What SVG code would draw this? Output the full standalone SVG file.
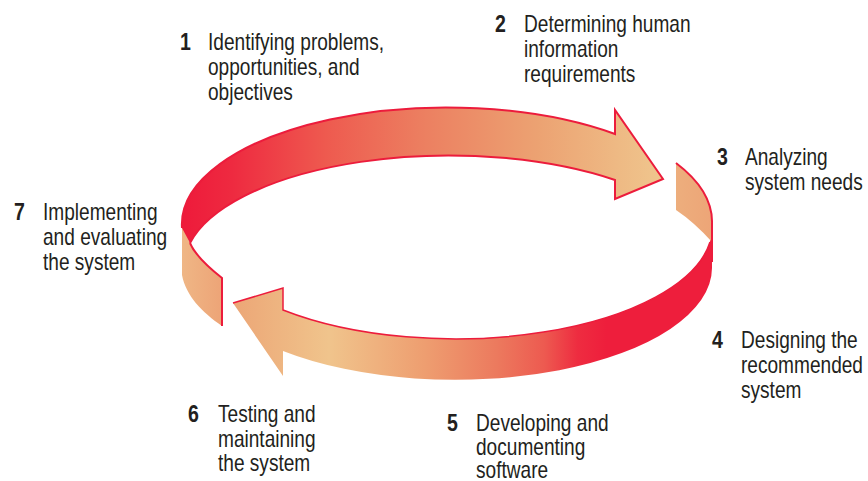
<svg xmlns="http://www.w3.org/2000/svg" width="868" height="481" viewBox="0 0 868 481">
  <defs>
    <linearGradient id="gTop" gradientUnits="userSpaceOnUse" x1="185" y1="0" x2="655" y2="0">
      <stop offset="0" stop-color="#EE1B3B"/>
      <stop offset="0.1" stop-color="#EE2A40"/>
      <stop offset="0.3" stop-color="#EE5A4F"/>
      <stop offset="0.5" stop-color="#EC7E60"/>
      <stop offset="0.75" stop-color="#ECA272"/>
      <stop offset="1" stop-color="#EFC48C"/>
    </linearGradient>
    <linearGradient id="gBot" gradientUnits="userSpaceOnUse" x1="233" y1="0" x2="712" y2="0">
      <stop offset="0" stop-color="#ECA676"/>
      <stop offset="0.2" stop-color="#F0C48C"/>
      <stop offset="0.4" stop-color="#EE9E70"/>
      <stop offset="0.55" stop-color="#EC7A5E"/>
      <stop offset="0.65" stop-color="#ED5A50"/>
      <stop offset="0.72" stop-color="#EE2C40"/>
      <stop offset="0.78" stop-color="#EE1E3C"/>
      <stop offset="1" stop-color="#EE1E3C"/>
    </linearGradient>
    <linearGradient id="gWallL" gradientUnits="userSpaceOnUse" x1="182" y1="0" x2="222" y2="0">
      <stop offset="0" stop-color="#EFB685"/>
      <stop offset="1" stop-color="#EDA477"/>
    </linearGradient>
    <linearGradient id="gWallR" gradientUnits="userSpaceOnUse" x1="676" y1="0" x2="712" y2="0">
      <stop offset="0" stop-color="#EDAE7D"/>
      <stop offset="1" stop-color="#EDA577"/>
    </linearGradient>
  </defs>
  <style>
    .lbl { font-family: "Liberation Sans", Arial, sans-serif; font-size: 23px; fill: #231F20; }
    .num { font-family: "Liberation Sans", Arial, sans-serif; font-size: 23px; font-weight: bold; fill: #231F20; }
    .edge { fill: none; stroke: #EC1C3C; stroke-width: 2; stroke-linejoin: miter; }
    .edgeThin { fill: none; stroke: #EC1C3C; stroke-width: 1.5; }
  </style>

  <g id="connectors">
    <!-- left wall -->
    <path d="M182,226 L182,275 C186,296 202,312 222,326 L222,278 C208,267 195,255 190,243 Z" fill="url(#gWallL)"/>
    <path class="edge" d="M190,243 C195,255 208,267 222,278 L222,326"/>
    <!-- bottom arrow (5 to 6) with right wall -->
    <path d="M712,222 L712,268 A257,112 0 0 1 283,351 L283,376 L233,303 L283,288 L283,310 A257,112 0 0 0 710,242 Z" fill="url(#gBot)"/>
    <path class="edgeThin" d="M233,303 L283,288 L283,310 A257,112 0 0 0 710,242"/>
    <!-- right wall face -->
    <path d="M676,163 A265,117 0 0 1 712,224 L712,242 Q694,222 676,210 Z" fill="url(#gWallR)"/>
    <path class="edge" d="M676,163 A265,117 0 0 1 712,224 L712,262"/>
    <!-- top arrow (1 to 3) -->
    <path d="M182,228 A265,117 0 0 1 615,134 L615,110 L663,179 L615,199 L615,180 A265,111 0 0 0 190,243 Z" fill="url(#gTop)"/>
    <path class="edge" d="M182,228 A265,117 0 0 1 615,134 L615,110 L663,179 L615,199 L615,180 A265,111 0 0 0 190,243"/>
  </g>

  <g id="step1">
    <text class="num" transform="translate(180,50) scale(0.85,1)">1</text>
    <text class="lbl" transform="translate(208,50) scale(0.83,1)"><tspan x="0" y="0">Identifying problems,</tspan><tspan x="0" y="25">opportunities, and</tspan><tspan x="0" y="50">objectives</tspan></text>
  </g>
  <g id="step2">
    <text class="num" transform="translate(495,32) scale(0.85,1)">2</text>
    <text class="lbl" transform="translate(524,32) scale(0.83,1)"><tspan x="0" y="0">Determining human</tspan><tspan x="0" y="25">information</tspan><tspan x="0" y="50">requirements</tspan></text>
  </g>
  <g id="step3">
    <text class="num" transform="translate(717,165) scale(0.85,1)">3</text>
    <text class="lbl" transform="translate(745,165) scale(0.83,1)"><tspan x="0" y="0">Analyzing</tspan><tspan x="0" y="25">system needs</tspan></text>
  </g>
  <g id="step4">
    <text class="num" transform="translate(712,348) scale(0.85,1)">4</text>
    <text class="lbl" transform="translate(741,348) scale(0.83,1)"><tspan x="0" y="0">Designing the</tspan><tspan x="0" y="25">recommended</tspan><tspan x="0" y="50">system</tspan></text>
  </g>
  <g id="step5">
    <text class="num" transform="translate(447,431) scale(0.85,1)">5</text>
    <text class="lbl" transform="translate(476,431) scale(0.83,1)"><tspan x="0" y="0">Developing and</tspan><tspan x="0" y="24">documenting</tspan><tspan x="0" y="47">software</tspan></text>
  </g>
  <g id="step6">
    <text class="num" transform="translate(188,422) scale(0.85,1)">6</text>
    <text class="lbl" transform="translate(218,422) scale(0.83,1)"><tspan x="0" y="0">Testing and</tspan><tspan x="0" y="25">maintaining</tspan><tspan x="0" y="49">the system</tspan></text>
  </g>
  <g id="step7">
    <text class="num" transform="translate(14,220) scale(0.85,1)">7</text>
    <text class="lbl" transform="translate(43,220) scale(0.83,1)"><tspan x="0" y="0">Implementing</tspan><tspan x="0" y="25">and evaluating</tspan><tspan x="0" y="50">the system</tspan></text>
  </g>
</svg>
